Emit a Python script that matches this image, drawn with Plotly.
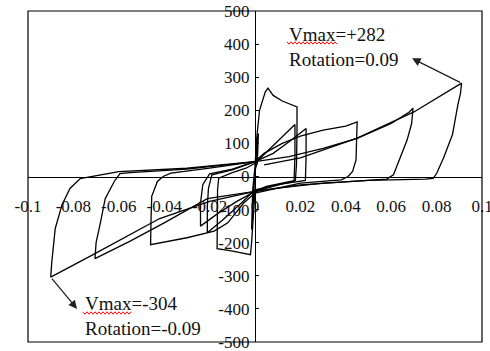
import plotly.graph_objects as go

# ---------------- data (rotation [rad], shear V [kN]) ----------------
c1_rot = [0.0, 0.0005, 0.001, 0.0015, 0.001, 0.0, -0.0005, -0.001, -0.0015, -0.001, 0.0]
c1_v = [0, 60, 110, 130, 40, 20, -60, -110, -160, -40, 30]

c2_rot = [0.0, 0.0008, 0.002, 0.0045, 0.0057, 0.008, 0.012, 0.0185, 0.0185, 0.0183, 0.0178,
          0.012, 0.005, 0.0, -0.0008, -0.0015, -0.002, -0.006, -0.011, -0.0167, -0.0167,
          -0.0165, -0.016, -0.01, -0.004, 0.0]
c2_v = [30, 120, 200, 255, 267, 245, 228, 210, 140, 40, -12,
        -20, -30, -45, -140, -200, -236, -230, -224, -218, -130,
        -40, -5, 12, 25, 40]

c3_rot = [0.0, 0.006, 0.012, 0.0176, 0.0176, 0.0172, 0.01, 0.0, -0.006, -0.014, -0.021,
          -0.021, -0.0205, -0.019, -0.01, 0.0]
c3_v = [40, 80, 120, 157, 60, -15, -25, -40, -80, -130, -170,
        -90, -36, 5, 20, 45]

c4_rot = [0.0, 0.008, 0.015, 0.0225, 0.0225, 0.0222, 0.012, 0.0, -0.008, -0.016, -0.024,
          -0.024, -0.023, -0.02, -0.01, 0.0]
c4_v = [45, 70, 105, 145, 60, -12, -22, -45, -75, -110, -150,
        -80, -25, 8, 22, 45]

c5_rot = [0.0, 0.004, 0.012, 0.02, 0.03, 0.04, 0.045, 0.0448, 0.0445, 0.043, 0.041, 0.038,
          0.02, 0.0, -0.005, -0.012, -0.018, -0.03, -0.046, -0.0458, -0.0455, -0.043,
          -0.0405, -0.037, -0.02, 0.0]
c5_v = [45, 70, 100, 122, 140, 152, 165, 100, 50, 15, 0, -10,
        -20, -50, -80, -140, -165, -185, -206, -130, -60, -15,
        0, 10, 25, 45]

c6_rot = [0.0, 0.015, 0.03, 0.045, 0.06, 0.068, 0.0696, 0.069, 0.067, 0.064, 0.061, 0.058,
          0.04, 0.02, 0.0, -0.021, -0.04, -0.055, -0.0705, -0.07, -0.068, -0.066, -0.062,
          -0.0595, -0.055, -0.03, 0.0]
c6_v = [45, 60, 85, 115, 160, 195, 206, 160, 110, 60, 5, -8,
        -15, -25, -45, -67, -140, -195, -248, -200, -136, -67, -15,
        9, 12, 22, 45]

c7_rot = [0.004, 0.02, 0.045, 0.07, 0.091, 0.0905, 0.0894, 0.087, 0.083, 0.080, 0.0785,
          0.075, 0.05, 0.03, 0.01, 0.0, -0.02, -0.042, -0.0705, -0.09, -0.0895, -0.088,
          -0.085, -0.0815, -0.077, -0.06, -0.03, 0.0]
c7_v = [35, 56, 116, 195, 282, 250, 218, 127, 55, 9, -6,
        -8, -12, -20, -35, -45, -75, -127, -233, -304, -257, -157,
        -85, -36, -6, 15, 25, 45]

cycles_rot = [c1_rot, c2_rot, c3_rot, c4_rot, c5_rot, c6_rot, c7_rot]
cycles_v = [c1_v, c2_v, c3_v, c4_v, c5_v, c6_v, c7_v]

x_tickvals = [-0.1, -0.08, -0.06, -0.04, -0.02, 0, 0.02, 0.04, 0.06, 0.08, 0.1]
x_ticktext = ["-0.1", "-0.08", "-0.06", "-0.04", "-0.02", "0", "0.02", "0.04", "0.06", "0.08", "0.1"]
y_tickvals = [-500, -400, -300, -200, -100, 0, 100, 200, 300, 400, 500]
y_ticktext = ["-500", "-400", "-300", "-200", "-100", "0", "100", "200", "300", "400", "500"]

pos_peak = (0.091, 282)
neg_peak = (-0.09, -304)
pos_text = "Vmax=+282<br>Rotation=0.09"
neg_text = "Vmax=-304<br>Rotation=-0.09"

# ---------------- figure ----------------
W, H = 490, 351
ML, MR, MT, MB = 28, 8, 11, 9
PW, PH = W - ML - MR, H - MT - MB
FONT = "Liberation Serif, Times New Roman, serif"
INK = "#111111"

fig = go.Figure()
for r, v in zip(cycles_rot, cycles_v):
    fig.add_trace(go.Scatter(x=r, y=v, mode="lines",
                             line=dict(color="black", width=1.3),
                             hoverinfo="skip", showlegend=False))


def px_to_paper(px, py):
    return (px - ML) / PW, (H - MB - py) / PH


def squiggle(x0, x1, y):
    pts = []
    n = int((x1 - x0) / 2)
    for i in range(n + 1):
        px = x0 + i * 2
        py = y + (1.2 if i % 2 else -1.2)
        pts.append(px_to_paper(px, py))
    return "M " + " L ".join(f"{a:.5f},{b:.5f}" for a, b in pts)


shapes = [
    dict(type="rect", xref="paper", yref="paper", x0=0, y0=0, x1=1, y1=1,
         line=dict(color="black", width=1.2)),
    dict(type="path", xref="paper", yref="paper", path=squiggle(287, 337, 43),
         line=dict(color="red", width=1)),
    dict(type="path", xref="paper", yref="paper", path=squiggle(83, 132, 313),
         line=dict(color="red", width=1)),
]

annotations = [
    dict(x=0.0141, y=392, xref="x", yref="y", text=pos_text, showarrow=False,
         xanchor="left", yanchor="middle", align="left",
         font=dict(family=FONT, size=19, color=INK)),
    dict(x=-0.0758, y=-420, xref="x", yref="y", text=neg_text, showarrow=False,
         xanchor="left", yanchor="middle", align="left",
         font=dict(family=FONT, size=19, color=INK)),
    dict(x=0.0692, y=357, xref="x", yref="y", ax=pos_peak[0], ay=pos_peak[1],
         axref="x", ayref="y", text="", showarrow=True, arrowhead=2,
         arrowsize=1.3, arrowwidth=1.3, arrowcolor="#222"),
    dict(x=-0.0784, y=-400, xref="x", yref="y", ax=neg_peak[0], ay=neg_peak[1],
         axref="x", ayref="y", text="", showarrow=True, arrowhead=2,
         arrowsize=1.3, arrowwidth=1.3, arrowcolor="#222"),
]

fig.update_layout(
    width=W, height=H,
    margin=dict(l=ML, r=MR, t=MT, b=MB, pad=0, autoexpand=False),
    paper_bgcolor="white", plot_bgcolor="white",
    shapes=shapes, annotations=annotations,
    xaxis=dict(range=[-0.1, 0.1], anchor="free", position=0.5, automargin=False,
               tickvals=x_tickvals, ticktext=x_ticktext, ticklabeloverflow="allow",
               showline=True, linecolor="black", linewidth=1.2,
               showgrid=False, zeroline=False, ticks="", ticklabelstandoff=14,
               tickfont=dict(family=FONT, size=17, color=INK), fixedrange=True),
    yaxis=dict(range=[-500, 500], anchor="free", position=0.5, automargin=False,
               tickvals=y_tickvals, ticktext=y_ticktext, ticklabeloverflow="allow",
               showline=True, linecolor="black", linewidth=1.2,
               showgrid=False, zeroline=False, ticks="inside", ticklen=3,
               tickcolor="black", ticklabelstandoff=2,
               tickfont=dict(family=FONT, size=17, color=INK), fixedrange=True),
)

fig.write_html("out.html", config={"displayModeBar": False},
               post_script="document.body.style.margin='0';document.body.style.overflow='hidden';")
